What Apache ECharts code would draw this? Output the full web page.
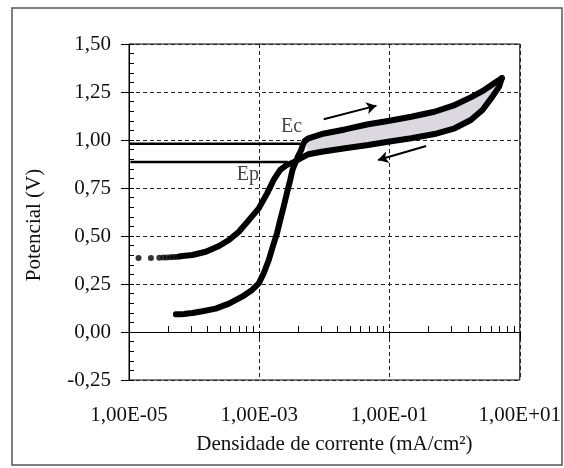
<!DOCTYPE html>
<html>
<head>
<meta charset="utf-8">
<script src="https://cdn.jsdelivr.net/npm/echarts@6/dist/echarts.min.js"></script>
</head>
<body style="margin:0">
<div id="main" style="width:564px;height:468px"></div>
<script>
// tick values on the x axis (log scale, labels every 2 decades)
var xMajorTicks = [1e-5, 1e-3, 1e-1, 10];
var xMinorTicks = [4e-5, 9e-5, 1.6e-4, 2.5e-4, 3.6e-4, 4.9e-4, 6.4e-4, 8.1e-4,
                   4e-3, 9e-3, 1.6e-2, 2.5e-2, 3.6e-2, 4.9e-2, 6.4e-2, 8.1e-2,
                   0.4, 0.9, 1.6, 2.5, 3.6, 4.9, 6.4, 8.1];

// anodic (forward) scan: [current density mA/cm2, potential V]
var forwardScan = [
    [5.26e-5, 0.092], [6.27e-5, 0.093], [7.03e-5, 0.094], [7.91e-5, 0.096], [9.42e-5, 0.099],
    [1.34e-4, 0.108], [2.14e-4, 0.122], [3.42e-4, 0.148], [5.46e-4, 0.184], [7.76e-4, 0.219],
    [9.82e-4, 0.253], [1.17e-3, 0.306], [1.40e-3, 0.375], [1.61e-3, 0.444], [1.87e-3, 0.514],
    [2.10e-3, 0.583], [2.37e-3, 0.653], [2.65e-3, 0.722], [2.99e-3, 0.792], [3.24e-3, 0.844],
    [3.56e-3, 0.879], [3.91e-3, 0.913], [4.41e-3, 0.948], [4.68e-3, 0.975], [5.0e-3, 0.995],
    [5.70e-3, 1.009], [9.10e-3, 1.031], [2.07e-2, 1.055], [4.70e-2, 1.082], [9.48e-2, 1.099],
    [0.215, 1.121], [0.490, 1.147], [1.0, 1.182], [1.77, 1.222], [2.84, 1.260],
    [4.04, 1.295], [5.3, 1.322]
];

// reverse scan, from the top back down
var reverseScan = [
    [5.3, 1.322], [4.82, 1.278], [3.80, 1.226], [2.67, 1.156], [1.77, 1.104], [1.0, 1.061],
    [0.490, 1.031], [0.215, 1.009], [9.48e-2, 0.991], [4.70e-2, 0.974], [2.07e-2, 0.957],
    [9.10e-3, 0.939], [5.70e-3, 0.926], [4.1e-3, 0.900], [3.37e-3, 0.884], [2.65e-3, 0.870],
    [2.10e-3, 0.844], [1.66e-3, 0.792], [1.32e-3, 0.722], [9.82e-4, 0.644], [6.92e-4, 0.583],
    [4.86e-4, 0.522], [3.42e-4, 0.479], [2.41e-4, 0.448], [1.51e-4, 0.418], [9.42e-5, 0.401],
    [6.64e-5, 0.396], [5.90e-5, 0.393]
];

// last sparse points of the reverse scan
var reverseTail = [
    [5.31e-5, 0.391], [4.78e-5, 0.390], [4.30e-5, 0.389], [3.80e-5, 0.388],
    [3.37e-5, 0.388], [2.92e-5, 0.387], [2.17e-5, 0.386], [1.40e-5, 0.385]
];

var ecLine = [[1e-5, 0.98], [4.3e-3, 0.98]];
var epLine = [[1.05e-5, 0.885], [2.75e-3, 0.885]];
var arrowUp = [[9.75e-3, 1.108], [6.3e-2, 1.179]];
var arrowDown = [[0.365, 0.969], [6.67e-2, 0.896]];
var marks = [{ name: 'Ec', value: [3.13e-3, 1.068] }, { name: 'Ep', value: [6.7e-4, 0.818] }];
var loopStart = 5e-3;

var loopPolygon = forwardScan.filter(function (p) { return p[0] >= loopStart; })
    .concat(reverseScan.filter(function (p) { return p[0] >= loopStart; }));

var font = 'Liberation Serif';
var dash = { color: '#222', width: 1, type: [4, 3] };

function sciLabel(v) {
    var e = Math.round(Math.log10(v));
    return '1,00E' + (e < 0 ? '-' : '+') + (Math.abs(e) < 10 ? '0' : '') + Math.abs(e);
}

var chart = echarts.init(document.getElementById('main'));
var option = {
    animation: false,
    backgroundColor: '#fff',
    graphic: [{
        type: 'rect', silent: true,
        shape: { x: 12, y: 8, width: 550, height: 457 },
        style: { fill: null, stroke: '#555', lineWidth: 1.5 }
    }],
    grid: { left: 129, right: 43, top: 44, bottom: 88, show: true, borderColor: '#000', borderWidth: 1 },
    xAxis: [{
        type: 'log', logBase: 10, min: 1e-5, max: 10,
        position: 'bottom',
        name: 'Densidade de corrente (mA/cm²)',
        nameLocation: 'middle', nameGap: 54,
        nameTextStyle: { fontFamily: font, fontSize: 21, color: '#111', padding: [0, 0, 0, 20] },
        axisLine: { lineStyle: { color: '#000', width: 1 } },
        axisTick: { inside: false, length: 7, customValues: xMajorTicks, lineStyle: { color: '#000' } },
        axisLabel: { customValues: xMajorTicks, formatter: sciLabel, margin: 25, fontFamily: font, fontSize: 21, color: '#111' },
        splitLine: { show: true, lineStyle: dash },
        minorTick: { show: false }
    }, {
        type: 'log', logBase: 10, min: 1e-5, max: 10,
        position: 'bottom',
        axisLine: { show: false },
        axisTick: { inside: true, length: 6, customValues: xMinorTicks, lineStyle: { color: '#000' } },
        axisLabel: { show: false },
        splitLine: { show: false }
    }],
    yAxis: [{
        type: 'value', min: -0.25, max: 1.5, interval: 0.25,
        position: 'left',
        name: 'Potencial (V)',
        nameLocation: 'middle', nameGap: 84,
        nameTextStyle: { fontFamily: font, fontSize: 21, color: '#111', padding: [0, 26, 0, 0] },
        axisLine: { show: true, lineStyle: { color: '#000', width: 1 } },
        axisTick: { show: true, inside: false, length: 8, lineStyle: { color: '#000' } },
        axisLabel: {
            margin: 18, fontFamily: font, fontSize: 21, color: '#111',
            formatter: function (v) { return v.toFixed(2).replace('.', ','); }
        },
        splitLine: { show: true, lineStyle: dash }
    }, {
        type: 'value', min: -0.25, max: 1.5, interval: 0.05,
        position: 'left', offset: 0,
        axisLine: { show: false },
        axisTick: { show: true, inside: true, length: 5, lineStyle: { color: '#000' } },
        axisLabel: { show: false },
        splitLine: { show: false }
    }],
    series: [{
        type: 'custom',
        z: 1,
        data: [loopPolygon[0]],
        renderItem: function (params, api) {
            return {
                type: 'polygon',
                shape: { points: loopPolygon.map(function (p) { return api.coord(p); }) },
                style: { fill: '#dcd8e0' }
            };
        }
    }, {
        name: 'forward', type: 'line', data: forwardScan, z: 3,
        showSymbol: false,
        lineStyle: { color: '#000', width: 6, join: 'round', cap: 'round' }
    }, {
        name: 'reverse', type: 'line', data: reverseScan, z: 3,
        showSymbol: false,
        lineStyle: { color: '#000', width: 6, join: 'round', cap: 'round' }
    }, {
        name: 'reverse tail', type: 'scatter', data: reverseTail, z: 3,
        symbolSize: 6, itemStyle: { color: '#000' }
    }, {
        name: 'Ec', type: 'line', data: ecLine, z: 2, showSymbol: false,
        lineStyle: { color: '#000', width: 2.5 }
    }, {
        name: 'Ep', type: 'line', data: epLine, z: 2, showSymbol: false,
        lineStyle: { color: '#000', width: 2.5 },
        markLine: {
            silent: true,
            symbol: ['none', 'arrow'], symbolSize: [9, 10],
            label: { show: false },
            lineStyle: { color: '#000', width: 2, type: 'solid' },
            data: [
                [{ coord: arrowUp[0] }, { coord: arrowUp[1] }],
                [{ coord: arrowDown[0] }, { coord: arrowDown[1] }]
            ]
        }
    }, {
        name: 'labels', type: 'scatter', data: marks, z: 4,
        symbolSize: 0,
        label: {
            show: true, position: 'inside', formatter: '{b}',
            fontFamily: font, fontSize: 20, color: '#111'
        }
    }]
};
chart.setOption(option);
</script>
</body>
</html>
